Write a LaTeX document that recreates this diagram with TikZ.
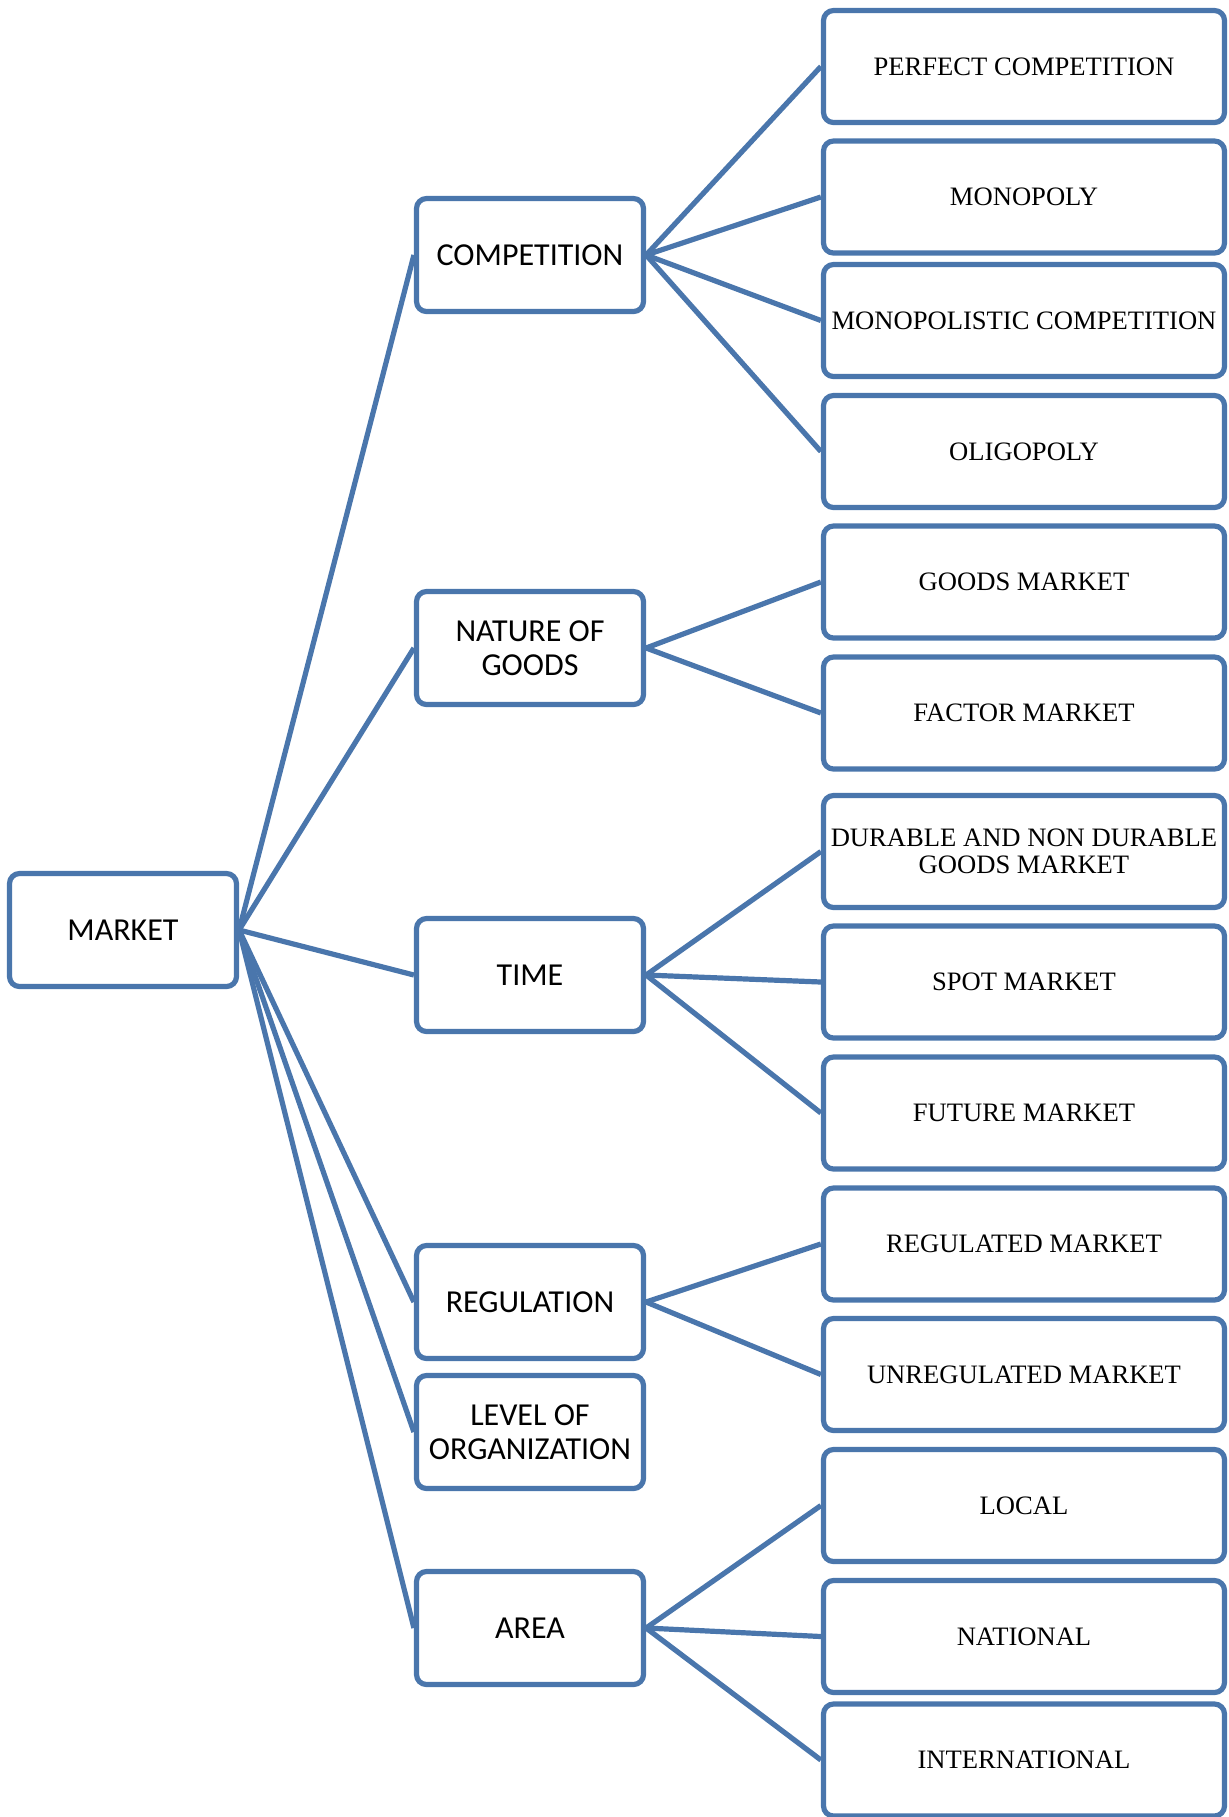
\documentclass[tikz,border=0pt]{standalone}
\usepackage{fontspec}
\setmainfont{Liberation Serif}
\newfontfamily\calfont{Carlito}
\usepackage{tikz}
\usetikzlibrary{positioning}
\definecolor{boxblue}{RGB}{74,118,172}

\tikzset{
  box/.style={draw=boxblue, line width=2.6pt, rounded corners=5pt, fill=white,
    inner sep=2pt, align=center, minimum height=56.5pt},
  mainbox/.style={box, minimum width=113.5pt, font=\calfont\fontsize{16}{16.8}\selectfont},
  leafbox/.style={box, minimum width=200.5pt, minimum height=56pt, font=\fontsize{13.3}{13.6}\selectfont},
  link/.style={draw=boxblue, line width=2.6pt}
}

\begin{document}
\begin{tikzpicture}[x=0.5pt,y=-0.5pt]
  \useasboundingbox (0,0) rectangle (1228,1817);

  % root
  \node[mainbox] (market) at (123,930) {MARKET};

  % criteria
  \node[mainbox] (comp)   at (530,255)  {COMPETITION};
  \node[mainbox] (nature) at (530,648)  {NATURE OF\\GOODS};
  \node[mainbox] (time)   at (530,975)  {TIME};
  \node[mainbox] (regul)  at (530,1302) {REGULATION};
  \node[mainbox] (level)  at (530,1432) {LEVEL OF\\ORGANIZATION};
  \node[mainbox] (area)   at (530,1628) {AREA};

  % market types
  \node[leafbox] (perfect) at (1024,66.5)  {PERFECT COMPETITION};
  \node[leafbox] (mono)    at (1024,197)   {MONOPOLY};
  \node[leafbox] (monocomp) at (1024,320.5) {MONOPOLISTIC COMPETITION};
  \node[leafbox] (oligo)   at (1024,451.5) {OLIGOPOLY};
  \node[leafbox] (goods)   at (1024,582)   {GOODS MARKET};
  \node[leafbox] (factor)  at (1024,713)   {FACTOR MARKET};
  \node[leafbox] (durable) at (1024,851.5) {DURABLE AND NON DURABLE\\GOODS MARKET};
  \node[leafbox] (spot)    at (1024,982)   {SPOT MARKET};
  \node[leafbox] (future)  at (1024,1113)  {FUTURE MARKET};
  \node[leafbox] (reg)     at (1024,1244)  {REGULATED MARKET};
  \node[leafbox] (unreg)   at (1024,1374.5) {UNREGULATED MARKET};
  \node[leafbox] (local)   at (1024,1505.5) {LOCAL};
  \node[leafbox] (nation)  at (1024,1636.5) {NATIONAL};
  \node[leafbox] (inter)   at (1024,1760)  {INTERNATIONAL};

  % connectors
  \foreach \m in {comp,nature,time,regul,level,area}
    \draw[link] (market.east) -- (\m.west);
  \foreach \l in {perfect,mono,monocomp,oligo}
    \draw[link] (comp.east) -- (\l.west);
  \foreach \l in {goods,factor}
    \draw[link] (nature.east) -- (\l.west);
  \foreach \l in {durable,spot,future}
    \draw[link] (time.east) -- (\l.west);
  \foreach \l in {reg,unreg}
    \draw[link] (regul.east) -- (\l.west);
  \foreach \l in {local,nation,inter}
    \draw[link] (area.east) -- (\l.west);

\end{tikzpicture}
\end{document}
